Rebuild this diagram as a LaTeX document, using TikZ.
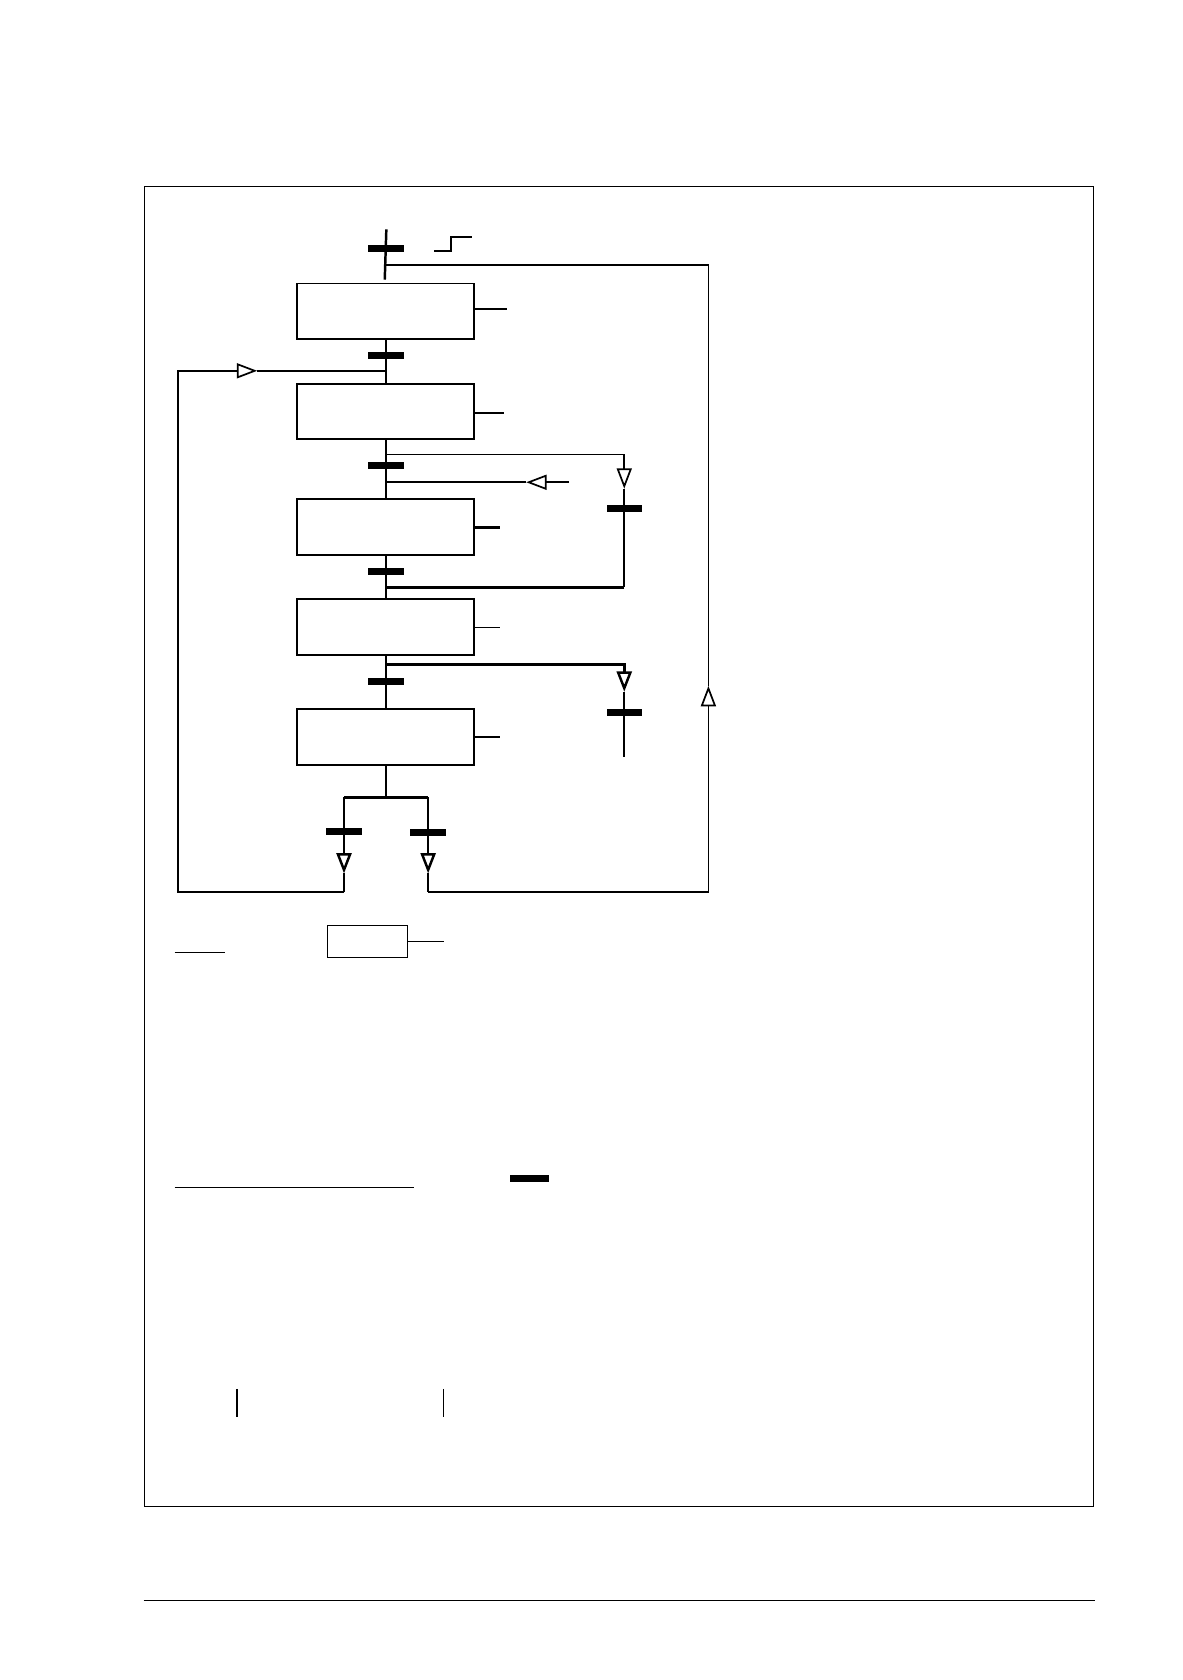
\documentclass[tikz,border=0pt]{standalone}
\usepackage{tikz}
\usetikzlibrary{arrows.meta,positioning}

\begin{document}
\begin{tikzpicture}[x=1pt,y=-1pt,>={Triangle[open,length=19pt,width=14pt]}]
  \tikzstyle{etape}=[draw=black,line width=1.8pt,minimum width=165pt,minimum height=52pt,inner sep=0pt]
  \tikzstyle{trans}=[fill=black,minimum width=33pt,minimum height=6.5pt,inner sep=0pt]
  \tikzstyle{axe}=[line width=2.3pt]
  \tikzstyle{lien}=[line width=1.6pt]

  \useasboundingbox (0,0) rectangle (1103,1567.6);

  % frame and page rule
  \draw[line width=1pt] (135,174) rectangle (1020,1406);
  \draw[line width=0.9pt] (134,1493) -- (1022,1493);

  % Steps
  \node[etape] (E1) at (360,290.5) {};
  \node[etape] (E2) at (360,384) {};
  \node[etape] (E3) at (360,492) {};
  \node[etape] (E4) at (360,585) {};
  \node[etape] (E5) at (360,687.5) {};

  % Transitions
  \node[trans] (T0) at (360,232) {};
  \node[trans] (T1) at (360,331.5) {};
  \node[trans] (T2) at (360,434.5) {};
  \node[trans] (T3) at (360,533) {};
  \node[trans] (T4) at (360,636) {};
  \node[trans] (T5) at (582.5,474.5) {};
  \node[trans] (T6) at (582.5,665) {};
  \node[trans] (T7) at (321,776) {};
  \node[trans] (T8) at (399.5,777) {};

  % Points on the links
  \coordinate (A0) at (360.5,214);
  \coordinate (A1) at (359,261);
  \coordinate (R0) at (360,247.5);
  \coordinate (RA) at (661,640);
  \coordinate (G1) at (360,346);
  \coordinate (LA) at (240,346);
  \coordinate (D1) at (360,424);
  \coordinate (DA) at (582.5,456);
  \coordinate (IN) at (531,450);
  \coordinate (IA) at (491,450);
  \coordinate (G2) at (360,450);
  \coordinate (J1) at (360,548);
  \coordinate (J2) at (582.5,548);
  \coordinate (D2) at (360,620);
  \coordinate (DA2) at (582.5,645.5);
  \coordinate (F2) at (582.5,706);
  \coordinate (S0) at (360,744);
  \coordinate (SL) at (321,744);
  \coordinate (SR) at (399.5,744);
  \coordinate (BA1) at (321,815);
  \coordinate (BA2) at (399.5,815);
  \coordinate (B1) at (321,832.5);
  \coordinate (B2) at (399.5,832);

  % Main axis
  \draw[axe] (A0) -- (A1);
  \draw[axe] (E1) -- (E2);
  \draw[axe] (E2) -- (E3);
  \draw[axe] (E3) -- (E4);
  \draw[axe] (E4) -- (E5);
  \draw[axe] (E5) -- (S0);
  \draw[axe] (SL) -- (SR);

  % Actions
  \draw[axe] ([yshift=2pt]E1.east) -- ++(30,0);
  \draw[axe] ([yshift=-1.5pt]E2.east) -- ++(27,0);
  \draw[axe] (E3.east) -- ++(23,0);
  \draw[lien] ([yshift=-0.5pt]E4.east) -- ++(23,0);
  \draw[axe] (E5.east) -- ++(23,0);

  % Rising edge
  \draw[lien] (405,234) -- (421,234) -- (421,221) -- (440,221);

  % Branches
  \draw[lien,->] (D1) -| (DA);
  \draw[lien] (DA) -- (T5) -- (J2);
  \draw[axe] (J2) -- (J1);
  \draw[lien,->] (IN) -- (IA);
  \draw[lien] (IA) -- (G2);
  \draw[axe,->] (D2) -| (DA2);
  \draw[lien] (DA2) -- (T6) -- (F2);

  % Alternative ends and loops
  \draw[axe,->] (SL) -- (T7) -- (BA1);
  \draw[axe,->] (SR) -- (T8) -- (BA2);
  \draw[lien,->] (B1) -- ++(-155,0) |- (LA);
  \draw[axe] (BA1) -- (B1);
  \draw[lien] (LA) -- (G1);
  \draw[lien,->] (B2) -| (RA);
  \draw[axe] (BA2) -- (B2);
  \draw[lien] (RA) |- (R0);

  % Legend
  \draw[line width=1.1pt] (163,889) -- (210,889);
  \node[draw=black,line width=0.9pt,minimum width=74pt,minimum height=30pt,inner sep=0pt] (L1) at (343,878.5) {};
  \draw[line width=1.1pt] (L1.east) -- ++(34,0);
  \draw[line width=1.6pt] (163,1108) -- (386,1108);
  \node[fill=black,minimum width=36pt,minimum height=7pt,inner sep=0pt] (L2) at (494,1099.5) {};
  \draw[line width=1.5pt] (221,1296) -- (221,1322);
  \draw[line width=1.5pt] (414,1296) -- (414,1322);
\end{tikzpicture}
\end{document}
